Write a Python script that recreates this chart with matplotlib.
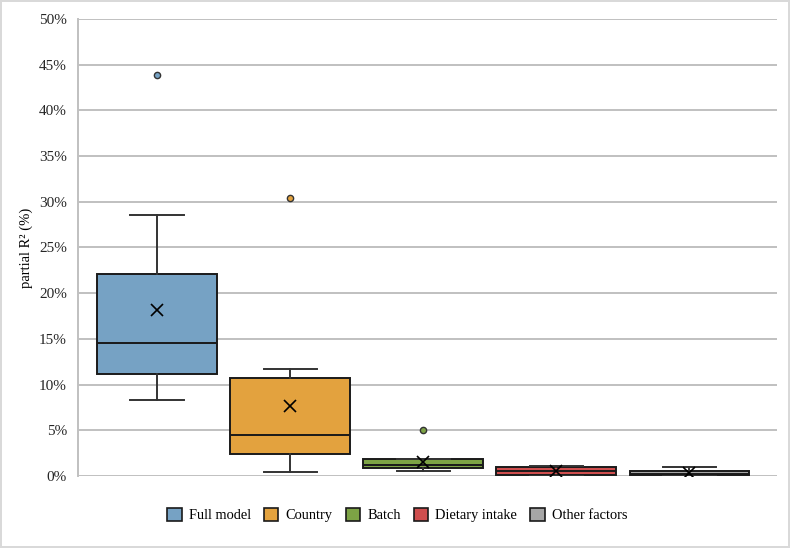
import matplotlib.pyplot as plt
from matplotlib.patches import Patch
from matplotlib.ticker import FuncFormatter

plt.rcParams['font.family'] = ['Liberation Serif', 'DejaVu Serif']

# partial R2 (%) summary per factor
factors = ['Full model', 'Country', 'Batch', 'Dietary intake', 'Other factors']
colors = ['#76A2C4', '#E3A23E', '#7DA345', '#CF4E4E', '#A6A6A6']
q1 = [11.2, 2.4, 0.85, 0.15, 0.1]
median = [14.6, 4.45, 1.17, 0.55, 0.22]
q3 = [22.05, 10.75, 1.82, 0.95, 0.58]
whis_lo = [8.3, 0.45, 0.58, 0.0, 0.0]
whis_hi = [28.6, 11.7, 1.9, 1.12, 0.95]
mean = [18.2, 7.65, 1.5, 0.55, 0.35]
outliers = [[43.9], [30.4], [5.05], [], []]

stats = []
for i in range(len(factors)):
    stats.append(dict(label=factors[i], q1=q1[i], med=median[i], q3=q3[i],
                      whislo=whis_lo[i], whishi=whis_hi[i], mean=mean[i],
                      fliers=outliers[i]))

fig = plt.figure(figsize=(7.9, 5.48), dpi=100)
fig.patch.set_edgecolor('#D9D9D9')
fig.patch.set_linewidth(1.5)
ax = fig.add_axes([0.0987, 0.1314, 0.8848, 0.834])

ax.set_ylim(0, 50)
ax.set_yticks(range(0, 51, 5))
ax.yaxis.set_major_formatter(FuncFormatter(lambda v, p: f'{v:.0f}%'))
ax.grid(axis='y', color='#C0C0C0', linewidth=1.4, zorder=0)
ax.set_axisbelow(True)

for i, s in enumerate(stats):
    bp = ax.bxp([s], positions=[i], widths=0.9, patch_artist=True,
                showmeans=True, showfliers=True,
                boxprops=dict(facecolor=colors[i], edgecolor='#1a1a1a', linewidth=1.4),
                medianprops=dict(color='#1a1a1a', linewidth=1.4),
                whiskerprops=dict(color='#333333', linewidth=1.4),
                capprops=dict(color='#333333', linewidth=1.4),
                meanprops=dict(marker='x', markeredgecolor='black', markersize=9,
                               markeredgewidth=1.2),
                flierprops=dict(marker='o', markerfacecolor=colors[i],
                                markeredgecolor='#333333', markersize=4.5,
                                markeredgewidth=1))
    for cap in bp['caps']:
        xd = cap.get_xdata()
        c = (xd[0] + xd[1]) / 2
        cap.set_xdata([c - 0.2, c + 0.2])

ax.set_xlim(-0.594, 4.658)
ax.set_xticks([])
for sp in ['top', 'right', 'bottom']:
    ax.spines[sp].set_visible(False)
ax.spines['left'].set_color('#C0C0C0')
ax.spines['left'].set_linewidth(1.4)
ax.tick_params(axis='y', length=0, labelsize=11, pad=8, labelcolor='#262626')
ax.set_ylabel('partial R² (%)', fontsize=10.5, labelpad=4)

handles = [Patch(facecolor=c, edgecolor='#1a1a1a', linewidth=1.2, label=f)
           for f, c in zip(factors, colors)]
fig.legend(handles=handles, loc='center', bbox_to_anchor=(0.503, 0.06), ncol=5,
           frameon=False, fontsize=10.4, handlelength=1.0, handleheight=1.0,
           handletextpad=0.5, columnspacing=0.9)

fig.savefig('out.png', dpi=100, edgecolor=fig.get_edgecolor())
